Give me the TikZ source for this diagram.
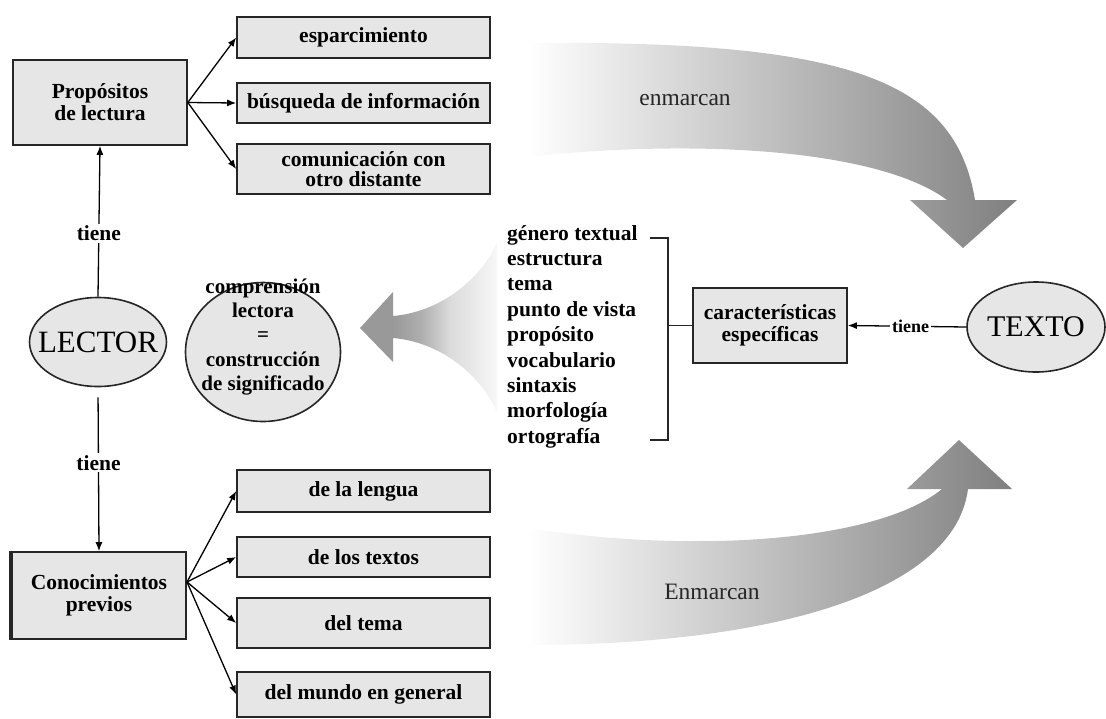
\documentclass[tikz,border=0pt]{standalone}
\usepackage{fontspec}
\setmainfont{Liberation Serif}
\usetikzlibrary{shapes.geometric,arrows.meta,calc}
\definecolor{boxgray}{HTML}{E6E6E6}
\definecolor{linegray}{HTML}{262626}
\pgfdeclarehorizontalshading{funnelshade}{100bp}{color(0bp)=(black!40); color(37bp)=(black!40); color(47bp)=(black!32); color(58bp)=(black!14); color(75bp)=(black!3); color(100bp)=(black!3)}
\begin{document}
\begin{tikzpicture}[x=1pt,y=-1pt,
  box/.style={draw=linegray, line width=1.6pt, fill=boxgray, align=center, inner sep=0pt,
    font=\bfseries\fontsize{21.5}{22}\selectfont},
  oval/.style={draw=linegray, line width=1.6pt, fill=boxgray, ellipse, inner sep=0pt},
  arr/.style={draw=black, line width=1.3pt, -{Latex[length=9pt,width=7pt]}},
  lab/.style={fill=white, inner sep=2pt, font=\bfseries\fontsize{21.5}{22}\selectfont},
  listtxt/.style={inner sep=0pt, font=\bfseries\fontsize{21.5}{22}\selectfont},
  brk/.style={draw=linegray, line width=1.5pt},
  bigtext/.style={font=\fontsize{23.5}{24}\selectfont, text=black!85}]
\useasboundingbox (0,0) rectangle (1106,718);

% big shaded arrows
\shade[left color=white, right color=black!50]
  (527,43) .. controls (850,40) and (955,80) .. (975,200) -- (1017,200) -- (963,248) -- (910,200) -- (947,200)
  .. controls (880,150) and (700,138) .. (527,157) -- cycle;
\shade[left color=white, right color=black!50]
  (527,528) .. controls (700,555) and (880,540) .. (942,489) -- (907,489) -- (959,440) -- (1012,489) -- (968,489)
  .. controls (955,590) and (780,645) .. (527,645) -- cycle;
\shade[shading=funnelshade]
  (360,328) -- (393,292) -- (393,316) .. controls (440,312) and (480,280) .. (497,243)
  -- (497,412) .. controls (480,374) and (440,342) .. (393,338) -- (393,362) -- cycle;

\node[bigtext] (enm1) at (685,100) {enmarcan};
\node[bigtext] (enm2) at (712,592) {Enmarcan};

% boxes
\node[box, minimum width=174pt, minimum height=85pt] (prop) at (100,102.5) {Propósitos\\de lectura};
\node[box, minimum width=253pt, minimum height=41pt] (esp) at (363.5,37.5) {esparcimiento};
\node[box, minimum width=253pt, minimum height=40pt] (bus) at (363.5,103) {búsqueda de información};
\node[box, minimum width=253pt, minimum height=50pt] (com) at (363.5,169) {comunicación con\\[-2pt]otro distante};

\node[box, minimum width=174pt, minimum height=87pt] (con) at (99,595.5) {Conocimientos\\previos};
\draw[line width=3.5pt, linegray] (con.north west) -- (con.south west);
\node[box, minimum width=253pt, minimum height=42pt] (lengua) at (363.5,491) {de la lengua};
\node[box, minimum width=253pt, minimum height=40pt] (textos) at (363.5,557) {de los textos};
\node[box, minimum width=253pt, minimum height=50pt] (tema) at (363.5,623) {del tema};
\node[box, minimum width=253pt, minimum height=45pt] (mundo) at (363.5,694.5) {del mundo en general};

\node[oval, minimum width=137pt, minimum height=89pt] (lector) at (98,342) {};
\node[font=\fontsize{31}{32}\selectfont, inner sep=0pt] (lectorT) at (lector.center) {LECTOR};

\node[oval, minimum width=155pt, minimum height=139pt] (comp) at (263,352) {};
\node[align=center, inner sep=0pt, font=\bfseries\fontsize{21}{24.3}\selectfont] (compT) at (263,337)
  {comprensión\\lectora\\=\\construcción\\de significado};

\node[box, minimum width=154pt, minimum height=75pt] (caract) at (770,325.5) {características\\específicas};

\node[oval, minimum width=138pt, minimum height=90pt] (texto) at (1036,327) {};
\node[font=\fontsize{30}{31}\selectfont, inner sep=0pt] (textoT) at (texto.center) {TEXTO};

% list
\foreach \t [count=\i from 0] in {género textual, estructura, tema, punto de vista, propósito, vocabulario, sintaxis, morfología, ortografía}
  \node[listtxt, anchor=base west] (l\i) at (507,{240+25.4*\i}) {\t};

% bracket
\coordinate (bt) at (650,238);
\coordinate (bb) at (650,440);
\coordinate (bm) at (668,0);
\draw[brk] (bt) -- (bt -| bm) -- (bb -| bm) -- (bb);
\draw[brk] (caract.west -| bm) -- (caract.west);

% connectors
\draw[arr] (prop.east) -- (esp.west);
\draw[arr] (prop.east) -- (bus.west);
\draw[arr] (prop.east) -- (com.west);
\coordinate (cout) at (187,582);
\draw[arr] (cout) -- (lengua.west);
\draw[arr] (cout) -- (textos.west);
\draw[arr] (cout) -- (tema.west);
\draw[arr] (cout) -- (mundo.west);

\draw[arr] (lector.north) -- node[lab, pos=0.42] (t1) {tiene} (prop.south);
\draw[arr, shorten <=10pt] (lector.south) -- node[lab, pos=0.46] (t2) {tiene} (con.north);
\draw[arr] (texto.west) -- node[lab, pos=0.47, font=\bfseries\fontsize{18}{19}\selectfont] (t3) {tiene} (caract.east);
\end{tikzpicture}
\end{document}
